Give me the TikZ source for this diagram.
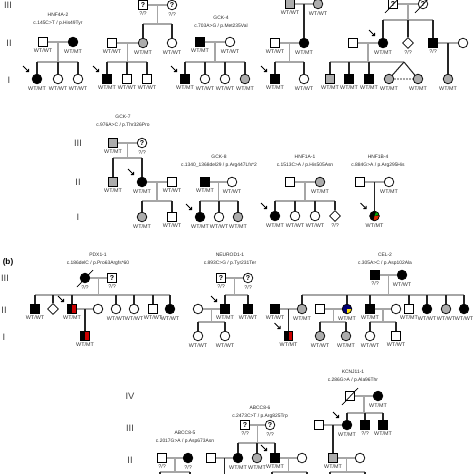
\documentclass[tikz,border=0pt]{standalone}
\usepackage{fontspec}
\setmainfont{Liberation Sans}
\usetikzlibrary{shapes.geometric, arrows.meta, calc}

\begin{document}
\begin{tikzpicture}[
  x=0.03cm, y=-0.03cm,
  sym/.style={draw=black, line width=0.6pt, fill=white, inner sep=0pt,
    font=\fontsize{6}{6}\selectfont\bfseries},
  male/.style={sym, rectangle, minimum size=0.26cm},
  female/.style={sym, circle, minimum size=0.29cm},
  unknown/.style={sym, diamond, minimum size=0.33cm},
  affected/.style={fill=black},
  carrier/.style={fill=gray!65},
  halfred/.style={fill=black, path picture={
    \fill[red!80!black] (path picture bounding box.center) ++(0.4pt,-3.1pt)
      rectangle ++(2.7pt,6.2pt);}},
  blueyellow/.style={fill=blue!45!black, path picture={
    \fill[yellow!85!orange] (path picture bounding box.center)
      rectangle (path picture bounding box.south east);}},
  mixed/.style={fill=black, path picture={
    \fill[red!60!orange!85!black] (path picture bounding box.center)
      -- ([shift={(-100:0.3cm)}]path picture bounding box.center)
      -- ([shift={(-40:0.3cm)}]path picture bounding box.center)
      -- ([shift={(5:0.3cm)}]path picture bounding box.center) -- cycle;
    \fill[green!65!black] (path picture bounding box.center)
      -- ([shift={(15:0.3cm)}]path picture bounding box.center)
      -- ([shift={(70:0.3cm)}]path picture bounding box.center) -- cycle;}},
  genotext/.style={font=\fontsize{4.6}{5.5}\selectfont, inner sep=0.3pt, yshift=-1.2pt, text=black!80},
  geno/.style={label={[genotext]below:#1}},
  gene/.style={font=\fontsize{4.2}{6.6}\selectfont, align=center, text=black!85},
  gen/.style={font=\fontsize{8}{9}\selectfont, text=black!75},
  marriage/.style={draw=gray!70, line width=0.9pt},
  child/.style={draw=black!85, line width=0.9pt},
  proband/.style={-{Straight Barb[length=1.6pt, width=3.4pt]}, line width=0.8pt},
  dead/.style={line width=0.6pt}
]
\useasboundingbox (0,0) rectangle (474,474);

% ---------- (a) upper row ----------
\node[gen] (gIIIa) at (8,5) {III};
\node[gen] (gIIa) at (9,43) {II};
\node[gen] (gIa) at (9,80) {I};

% HNF4A-2
\node[gene] (hnf4a) at (58,19) {HNF4A-2\\c.145C>T / p.His49Tyr};
\node[male, geno=WT/WT] (a2f) at (43,42) {};
\node[female, affected, geno=WT/MT] (a2m) at (73,42) {};
\node[female, affected, geno=WT/MT] (a1c1) at (37,79) {};
\node[female, geno=WT/WT] (a1c2) at (58,79) {};
\node[female, geno=WT/WT] (a1c3) at (78,79) {};
\coordinate (a2s) at (58,62);
\draw[marriage] (a2f) -- (a2m);
\draw[marriage] ($(a2f)!0.5!(a2m)$) -- (a2s);
\draw[marriage] (a1c1 |- a2s) -- (a1c3 |- a2s);
\foreach \c in {a1c1,a1c2,a1c3} \draw[child] (\c |- a2s) -- (\c);

% second family
\node[male, geno=?/?] (b3f) at (143,5) {?};
\node[female, geno=?/?] (b3m) at (172,5) {?};
\node[female, carrier, geno=WT/MT] (b2c1) at (143,43) {};
\node[female, geno=WT/WT] (b2c2) at (172,43) {};
\node[male, geno=WT/WT] (b2s) at (112,43) {};
\node[male, affected, geno=WT/MT] (b1c1) at (107,79) {};
\node[male, geno=WT/WT] (b1c2) at (127,79) {};
\node[male, geno=WT/WT] (b1c3) at (147,79) {};
\coordinate (b3s) at (157.5,24);
\coordinate (b2sib) at (127.5,62);
\draw[marriage] (b3f) -- (b3m);
\draw[marriage] ($(b3f)!0.5!(b3m)$) -- (b3s);
\draw[marriage] (b2c1 |- b3s) -- (b2c2 |- b3s);
\foreach \c in {b2c1,b2c2} \draw[child] (\c |- b3s) -- (\c);
\draw[marriage] (b2s) -- (b2c1);
\draw[marriage] ($(b2s)!0.5!(b2c1)$) -- (b2sib);
\draw[marriage] (b1c1 |- b2sib) -- (b1c3 |- b2sib);
\foreach \c in {b1c1,b1c2,b1c3} \draw[child] (\c |- b2sib) -- (\c);

% GCK-4
\node[gene] (gck4) at (221,22) {GCK-4\\c.703A>G / p.Met235Val};
\node[male, affected, geno=WT/MT] (c2f) at (200,42) {};
\node[female, geno=WT/WT] (c2m) at (230,42) {};
\node[male, affected, geno=WT/MT] (c1c1) at (185,79) {};
\node[female, geno=WT/WT] (c1c2) at (205,79) {};
\node[female, geno=WT/WT] (c1c3) at (225,79) {};
\node[female, carrier, geno=WT/MT] (c1c4) at (245,79) {};
\coordinate (c2s) at (215,62);
\draw[marriage] (c2f) -- (c2m);
\draw[marriage] ($(c2f)!0.5!(c2m)$) -- (c2s);
\draw[marriage] (c1c1 |- c2s) -- (c1c4 |- c2s);
\foreach \c in {c1c1,c1c2,c1c3,c1c4} \draw[child] (\c |- c2s) -- (\c);

% fourth family
\node[male, carrier, geno=WT/WT] (d3f) at (290,4) {};
\node[female, carrier, geno=WT/WT] (d3m) at (318,4) {};
\node[female, affected, geno=WT/MT] (d2m) at (304,43) {};
\node[male, geno=WT/WT] (d2f) at (275,43) {};
\node[male, affected, geno=WT/MT] (d1c1) at (275,79) {};
\node[female, geno=WT/WT] (d1c2) at (304,79) {};
\coordinate (d2s) at (289.5,62);
\draw[marriage] (d3f) -- (d3m);
\draw[child] ($(d3f)!0.5!(d3m)$) -- (d2m);
\draw[marriage] (d2f) -- (d2m);
\draw[marriage] ($(d2f)!0.5!(d2m)$) -- (d2s);
\draw[marriage] (d1c1 |- d2s) -- (d1c2 |- d2s);
\foreach \c in {d1c1,d1c2} \draw[child] (\c |- d2s) -- (\c);

% fifth family
\node[male] (e3f) at (393,4) {?};
\node[female] (e3m) at (423,4) {?};
\node[female, affected, geno=WT/MT] (e2c1) at (383,43) {};
\node[unknown, geno=?/?] (e2c2) at (408,43) {};
\node[male, affected, geno=?/?] (e2c3) at (433,43) {};
\node[male] (e2s1) at (353,43) {};
\node[female] (e2s2) at (463,43) {};
\node[male, carrier, geno=WT/MT] (e1c1) at (330,79) {};
\node[male, affected, geno=WT/MT] (e1c2) at (349,79) {};
\node[male, affected, geno=WT/MT] (e1c3) at (369,79) {};
\node[female, carrier, geno=WT/MT] (e1t1) at (389,79) {};
\node[female, carrier, geno=WT/MT] (e1t2) at (418,79) {};
\node[female, carrier, geno=WT/MT] (e1c6) at (448,79) {};
\coordinate (e3s) at (408,20);
\coordinate (e2sib) at (368,62);
\coordinate (e1tw) at (404,62);
\draw[marriage] (e3f) -- (e3m);
\draw[marriage] ($(e3f)!0.5!(e3m)$) -- (e3s);
\draw[marriage] (e2c1 |- e3s) -- (e2c3 |- e3s);
\foreach \c in {e2c1,e2c2,e2c3} \draw[child] (\c |- e3s) -- (\c);
\draw[marriage] (e2s1) -- (e2c1);
\draw[marriage] ($(e2s1)!0.5!(e2c1)$) -- (e2sib);
\draw[marriage] (e1c1 |- e2sib) -- (e1tw);
\foreach \c in {e1c1,e1c2,e1c3} \draw[child] (\c |- e2sib) -- (\c);
\draw[child] (e1tw) -- (e1t1);
\draw[child] (e1tw) -- (e1t2);
\draw[marriage, dash pattern=on 1.5pt off 1pt] (e1t1) -- (e1t2);
\draw[marriage] (e2c3) -- (e2s2);
\draw[child] ($(e2c3)!0.5!(e2s2)$) -- (e1c6);

% ---------- (a) lower row ----------
\node[gen] (gIIIb) at (78,143) {III};
\node[gen] (gIIb) at (78,182) {II};
\node[gen] (gIb) at (78,217) {I};

% GCK-7
\node[gene] (gck7) at (123,121) {GCK-7\\c.976A>C / p.Thr326Pro};
\node[male, carrier, geno=WT/MT] (f3f) at (113,143) {};
\node[female, geno=?/?] (f3m) at (142,143) {?};
\node[male, carrier, geno=WT/MT] (f2c1) at (113,182) {};
\node[female, affected, geno=WT/MT] (f2c2) at (142,182) {};
\node[male, geno=WT/WT] (f2s) at (172,182) {};
\node[female, carrier, geno=WT/MT] (f1c1) at (142,217) {};
\node[male, geno=WT/WT] (f1c2) at (172,217) {};
\coordinate (f3s) at (127.5,158);
\coordinate (f2sib) at (157,201);
\draw[marriage] (f3f) -- (f3m);
\draw[marriage] ($(f3f)!0.5!(f3m)$) -- (f3s);
\draw[marriage] (f2c1 |- f3s) -- (f2c2 |- f3s);
\foreach \c in {f2c1,f2c2} \draw[child] (\c |- f3s) -- (\c);
\draw[marriage] (f2c2) -- (f2s);
\draw[marriage] ($(f2c2)!0.5!(f2s)$) -- (f2sib);
\draw[marriage] (f1c1 |- f2sib) -- (f1c2 |- f2sib);
\foreach \c in {f1c1,f1c2} \draw[child] (\c |- f2sib) -- (\c);

% GCK-8
\node[gene] (gck8) at (219,161) {GCK-8\\c.1340\_1368del29 / p.Arg447Lfs*2};
\node[male, affected, geno=WT/MT] (g2f) at (205,182) {};
\node[female, geno=WT/WT] (g2m) at (232,182) {};
\node[female, affected, geno=WT/MT] (g1c1) at (200,217) {};
\node[female, geno=WT/WT] (g1c2) at (219,217) {};
\node[female, carrier, geno=WT/MT] (g1c3) at (238,217) {};
\coordinate (g2s) at (218.5,201);
\draw[marriage] (g2f) -- (g2m);
\draw[marriage] ($(g2f)!0.5!(g2m)$) -- (g2s);
\draw[marriage] (g1c1 |- g2s) -- (g1c3 |- g2s);
\foreach \c in {g1c1,g1c2,g1c3} \draw[child] (\c |- g2s) -- (\c);

% HNF1A-1
\node[gene] (hnf1a) at (305,161) {HNF1A-1\\c.1513C>A / p.His505Asn};
\node[male] (h2f) at (290,182) {};
\node[female, carrier, geno=WT/MT] (h2m) at (320,182) {};
\node[female, affected, geno=WT/MT] (h1c1) at (275,216) {};
\node[female, geno=WT/WT] (h1c2) at (295,216) {};
\node[female, geno=WT/WT] (h1c3) at (315,216) {};
\node[unknown, geno=?/?] (h1c4) at (335,216) {};
\coordinate (h2s) at (305,201);
\draw[marriage] (h2f) -- (h2m);
\draw[marriage] ($(h2f)!0.5!(h2m)$) -- (h2s);
\draw[marriage] (h1c1 |- h2s) -- (h1c4 |- h2s);
\foreach \c in {h1c1,h1c2,h1c3,h1c4} \draw[child] (\c |- h2s) -- (\c);

% HNF1B-4
\node[gene] (hnf1b) at (378,161) {HNF1B-4\\c.884G>A / p.Arg295His};
\node[male] (k2f) at (360,182) {};
\node[female, geno=WT/MT] (k2m) at (389,182) {};
\node[female, mixed, geno=WT/MT] (k1c) at (374.5,216) {};
\draw[marriage] (k2f) -- (k2m);
\draw[child] ($(k2f)!0.5!(k2m)$) -- (k1c);

% ---------- (b) ----------
\node[font=\fontsize{7}{8}\selectfont\bfseries] (blabel) at (8,262) {(b)};
\node[gen] (gIIIc) at (5,278) {III};
\node[gen] (gIIc) at (4,310) {II};
\node[gen] (gIc) at (4,337) {I};

% PDX1-1
\node[gene] (pdx1) at (98,259.5) {PDX1-1\\c.186delC / p.Pro63Argfs*60};
\node[female, affected, geno=?/?] (p3f) at (85,278) {};
\node[male, geno=?/?] (p3m) at (112,278) {?};
\node[male, affected, geno=WT/WT] (p2c1) at (35,309) {};
\node[unknown] (p2c2) at (53,309) {};
\node[male, halfred, geno=WT/MT] (p2c3) at (72,309) {};
\node[female] (p2s) at (98,309) {};
\node[female, geno=WT/WT] (p2c4) at (116,309) {};
\node[female, geno=WT/WT] (p2c5) at (134,309) {};
\node[male, geno=WT/WT] (p2c6) at (153,309) {};
\node[female, affected, geno=WT/WT] (p2c7) at (170,309) {};
\node[male, halfred, geno=WT/MT] (p1c) at (85,336) {};
\coordinate (p3s) at (98.5,295);
\draw[marriage] (p3f) -- (p3m);
\draw[marriage] ($(p3f)!0.5!(p3m)$) -- (p3s);
\draw[marriage] (p2c1 |- p3s) -- (p2c7 |- p3s);
\foreach \c in {p2c1,p2c2,p2c3,p2c4,p2c5,p2c6,p2c7} \draw[child] (\c |- p3s) -- (\c);
\draw[marriage] (p2c3) -- (p2s);
\draw[child] ($(p2c3)!0.5!(p2s)$) -- (p1c);

% NEUROD1-1
\node[gene] (neurod1) at (230,259.5) {NEUROD1-1\\c.893C>G / p.Tyr231Ter};
\node[male, geno=?/?] (n3f) at (221,278) {?};
\node[female, geno=?/?] (n3m) at (248,278) {?};
\node[male, affected, geno=WT/MT] (n2c1) at (225,309) {};
\node[male, affected, geno=WT/WT] (n2c2) at (248,309) {};
\node[female] (n2s) at (198,309) {};
\node[female, geno=WT/WT] (n1c1) at (198,336) {};
\node[female, geno=WT/WT] (n1c2) at (225,336) {};
\coordinate (n3s) at (234.5,295);
\coordinate (n2sib) at (211.5,322);
\draw[marriage] (n3f) -- (n3m);
\draw[marriage] ($(n3f)!0.5!(n3m)$) -- (n3s);
\draw[marriage] (n2c1 |- n3s) -- (n2c2 |- n3s);
\foreach \c in {n2c1,n2c2} \draw[child] (\c |- n3s) -- (\c);
\draw[marriage] (n2s) -- (n2c1);
\draw[marriage] ($(n2s)!0.5!(n2c1)$) -- (n2sib);
\draw[marriage] (n1c1 |- n2sib) -- (n1c2 |- n2sib);
\foreach \c in {n1c1,n1c2} \draw[child] (\c |- n2sib) -- (\c);

% CEL-2
\node[gene] (cel2) at (385,259.5) {CEL-2\\c.305A>C / p.Asp102Ala};
\node[male, affected, geno=?/?] (l3f) at (375,275) {};
\node[female, affected, geno=WT/WT] (l3m) at (402,275) {};
\node[male, affected, geno=WT/WT] (l2s1) at (275,309) {};
\node[female, carrier, geno=WT/MT] (l2c1) at (302,309) {};
\node[male] (l2s2) at (320,309) {};
\node[female, blueyellow, geno=WT/MT] (l2c2) at (347,309) {};
\node[male, affected, geno=WT/MT] (l2c3) at (370,309) {};
\node[female] (l2s3) at (396,309) {};
\node[male, geno=WT/MT] (l2c4) at (409,309) {};
\node[female, affected, geno=WT/WT] (l2c5) at (427,309) {};
\node[female, carrier, geno=WT/WT] (l2c6) at (446,309) {};
\node[female, affected, geno=WT/WT] (l2c7) at (464,309) {};
\node[male, halfred, geno=WT/MT] (l1a) at (288.5,336) {};
\node[female, carrier, geno=WT/WT] (l1b1) at (320,336) {};
\node[female, carrier, geno=WT/MT] (l1b2) at (346,336) {};
\node[female, geno=WT/WT] (l1c1) at (370,336) {};
\node[male, geno=WT/WT] (l1c2) at (396,336) {};
\coordinate (l3s) at (388.5,295);
\coordinate (l2sibb) at (333.5,322);
\coordinate (l2sibc) at (383,322);
\draw[marriage] (l3f) -- (l3m);
\draw[marriage] ($(l3f)!0.5!(l3m)$) -- (l3s);
\draw[marriage] (l2c1 |- l3s) -- (l2c7 |- l3s);
\foreach \c in {l2c1,l2c2,l2c3,l2c4,l2c5,l2c6,l2c7} \draw[child] (\c |- l3s) -- (\c);
\draw[marriage] (l2s1) -- (l2c1);
\draw[child] ($(l2s1)!0.5!(l2c1)$) -- (l1a);
\draw[marriage] (l2s2) -- (l2c2);
\draw[marriage] ($(l2s2)!0.5!(l2c2)$) -- (l2sibb);
\draw[marriage] (l1b1 |- l2sibb) -- (l1b2 |- l2sibb);
\foreach \c in {l1b1,l1b2} \draw[child] (\c |- l2sibb) -- (\c);
\draw[marriage] (l2c3) -- (l2s3);
\draw[marriage] ($(l2c3)!0.5!(l2s3)$) -- (l2sibc);
\draw[marriage] (l1c1 |- l2sibc) -- (l1c2 |- l2sibc);
\foreach \c in {l1c1,l1c2} \draw[child] (\c |- l2sibc) -- (\c);

% ---------- bottom row ----------
\node[gen] (gIVd) at (130,396) {IV};
\node[gen] (gIIId) at (130,428) {III};
\node[gen] (gIId) at (130,460) {II};

% ABCC8-5
\node[gene] (abcc5) at (185,437) {ABCC8-5\\c.2017G>A / p.Asp673Asn};
\node[male, geno=?/?] (q2f) at (162,458) {};
\node[female, affected, geno=?/?] (q2m) at (188,458) {};
\coordinate (q2s) at (175,472);
\coordinate (q1l) at (160,472);
\coordinate (q1r) at (190,472);
\draw[marriage] (q2f) -- (q2m);
\draw[marriage] ($(q2f)!0.5!(q2m)$) -- (q2s);
\draw[marriage, line width=1.4pt] (q1l) -- (q1r);
\foreach \c in {q1l,q1r} \draw[child] (\c) -- ++(0,6);

% ABCC8-6
\node[gene] (abcc6) at (260,412) {ABCC8-6\\c.2473C>T / p.Arg825Trp};
\node[male, geno=?/?] (r3f) at (245,425) {?};
\node[female, geno=?/?] (r3m) at (270,425) {?};
\node[male] (r2s1) at (211,458) {};
\node[female, affected, geno=WT/MT] (r2c1) at (238,458) {};
\node[female, carrier, geno=WT/MT] (r2c2) at (257,458) {};
\node[male, affected, geno=WT/MT] (r2c3) at (275,458) {};
\node[female] (r2s2) at (302,458) {};
\coordinate (r3s) at (257.5,443);
\coordinate (r2sa) at (224.5,480);
\coordinate (r2sb) at (288.5,472);
\coordinate (r1l) at (272,472);
\coordinate (r1r) at (307,472);
\draw[marriage] (r3f) -- (r3m);
\draw[marriage] ($(r3f)!0.5!(r3m)$) -- (r3s);
\draw[marriage] (r2c1 |- r3s) -- (r2c3 |- r3s);
\foreach \c in {r2c1,r2c2,r2c3} \draw[child] (\c |- r3s) -- (\c);
\draw[marriage] (r2s1) -- (r2c1);
\draw[child] ($(r2s1)!0.5!(r2c1)$) -- (r2sa);
\draw[marriage] (r2c3) -- (r2s2);
\draw[marriage] ($(r2c3)!0.5!(r2s2)$) -- (r2sb);
\draw[marriage, line width=1.4pt] (r1l) -- (r1r);
\foreach \c in {r1l,r1r} \draw[child] (\c) -- ++(0,6);

% KCNJ11-1
\node[gene] (kcnj11) at (353,376) {KCNJ11-1\\c.286G>A / p.Ala96Thr};
\node[male] (s4f) at (350,396) {};
\node[female, affected, geno=WT/MT] (s4m) at (378,396) {};
\node[male] (s3s) at (319,425) {};
\node[female, affected, geno=WT/MT] (s3c1) at (347,425) {};
\node[male, affected, geno=?/?] (s3c2) at (365,425) {};
\node[male, affected, geno=WT/MT] (s3c3) at (383,425) {};
\node[male, carrier, geno=WT/MT] (s2c) at (333,458) {};
\node[female] (s2s) at (360,458) {};
\coordinate (s4sib) at (364,413);
\coordinate (s2sib) at (346.5,472);
\coordinate (s1l) at (330,472);
\coordinate (s1r) at (365,472);
\draw[marriage] (s4f) -- (s4m);
\draw[marriage] ($(s4f)!0.5!(s4m)$) -- (s4sib);
\draw[marriage] (s3c1 |- s4sib) -- (s3c3 |- s4sib);
\foreach \c in {s3c1,s3c2,s3c3} \draw[child] (\c |- s4sib) -- (\c);
\draw[marriage] (s3s) -- (s3c1);
\draw[child] ($(s3s)!0.5!(s3c1)$) -- (s2c);
\draw[marriage] (s2c) -- (s2s);
\draw[marriage] ($(s2c)!0.5!(s2s)$) -- (s2sib);
\draw[marriage, line width=1.4pt] (s1l) -- (s1r);
\foreach \c in {s1l,s1r} \draw[child] (\c) -- ++(0,6);

% probands and deceased marks
\foreach \p in {a1c1,b1c1,c1c1,d1c1,e2c1,f2c2,g1c1,h1c1,k1c,p2c3,n2c1,l1a,r2c3,s3c1}
  \draw[proband] ([shift={(-14,-13)}]\p.center) -- ([shift={(-8,-7)}]\p.center);
\foreach \d in {e3f,e3m,p3f,s4f}
  \draw[dead] ([shift={(-8,9)}]\d.center) -- ([shift={(8,-8)}]\d.center);
\end{tikzpicture}
\end{document}
